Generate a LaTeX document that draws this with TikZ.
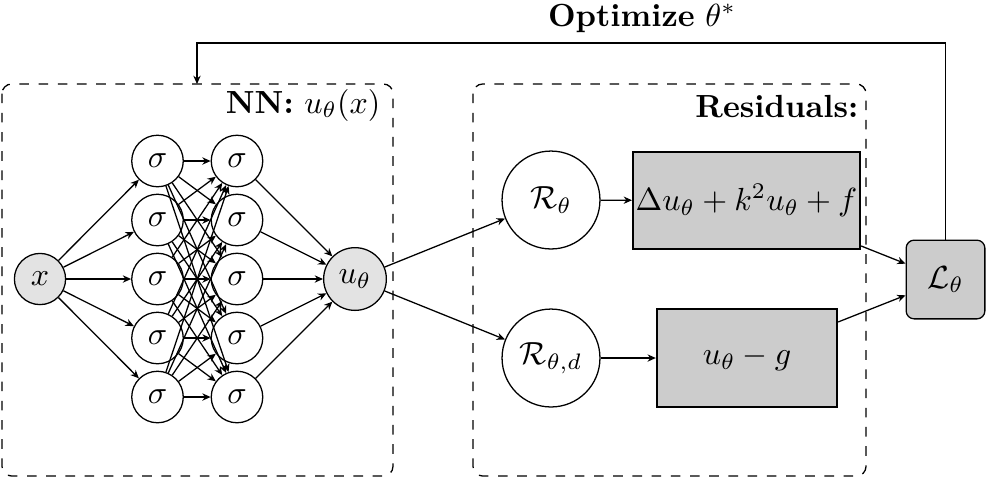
\documentclass[tikz,border=0pt]{standalone}
\usetikzlibrary{arrows.meta,positioning}
\begin{document}
\begin{tikzpicture}[x=0.3125pt,y=-0.3125pt,
  >={Stealth[length=2.6pt,width=2.3pt]},
  neuron/.style={circle,draw,minimum size=16.1pt,inner sep=0pt},
  ionode/.style={circle,draw,fill=gray!22,inner sep=0pt},
  resnode/.style={circle,draw,minimum size=30.6pt,inner sep=0pt},
  resbox/.style={rectangle,draw,semithick,fill=gray!40,inner sep=0pt},
  lossbox/.style={rectangle,draw,fill=gray!40,rounded corners=2.5pt,minimum size=24.6pt,inner sep=0pt},
  frame/.style={draw,dashed,rounded corners=3pt},
  conn/.style={->}]
\useasboundingbox (0,0) rectangle (986,478);
% frames
\draw[frame] (2,84) rectangle (393,476);
\draw[frame] (473,84) rectangle (866,476);
\node[anchor=base east,inner sep=0pt] (nnlabel) at (381,113) {\textbf{NN:} $u_\theta(x)$};
\node[anchor=base east,inner sep=0pt] (reslabel) at (859,117) {\textbf{Residuals:}};
% input / output
\node[ionode,minimum size=16pt] (x) at (40,279) {$x$};
\node[ionode,minimum size=19.6pt] (u) at (355,279) {$u_\theta$};
% hidden layers
\foreach \i/\yy in {1/161,2/220,3/279,4/338,5/397}{
  \node[neuron] (a\i) at (157.5,\yy) {$\sigma$};
  \node[neuron] (b\i) at (237,\yy) {$\sigma$};
}
\foreach \i in {1,...,5}{
  \draw[conn] (x) -- (a\i);
  \draw[conn] (b\i) -- (u);
  \foreach \j in {1,...,5}{
    \draw[conn] (a\i) -- (b\j);
  }
}
% residuals
\node[resnode] (r1) at (551,200) {$\mathcal{R}_\theta$};
\node[resnode] (r2) at (551,358) {$\mathcal{R}_{\theta,d}$};
\node[resbox,minimum width=71pt,minimum height=30.4pt] (f1) at (746.5,200.5) {$\Delta u_\theta + k^2 u_\theta + f$};
\node[resbox,minimum width=56.4pt,minimum height=30.6pt] (f2) at (747,358) {$u_\theta - g$};
\node[lossbox] (L) at (945.5,279.5) {$\mathcal{L}_\theta$};
\draw[conn] (u) -- (r1);
\draw[conn] (u) -- (r2);
\draw[conn] (r1) -- (f1);
\draw[conn] (r2) -- (f2);
\draw[conn] (f1) -- (L);
\draw[conn] (f2) -- (L);
% feedback
\coordinate (top) at (945.5,43);
\coordinate (nntop) at (197,84);
\draw[->] (L.north) -- (top) -| (nntop);
\node[anchor=base,inner sep=0pt] (opt) at (642,26) {\textbf{Optimize} $\theta^*$};
\end{tikzpicture}
\end{document}
